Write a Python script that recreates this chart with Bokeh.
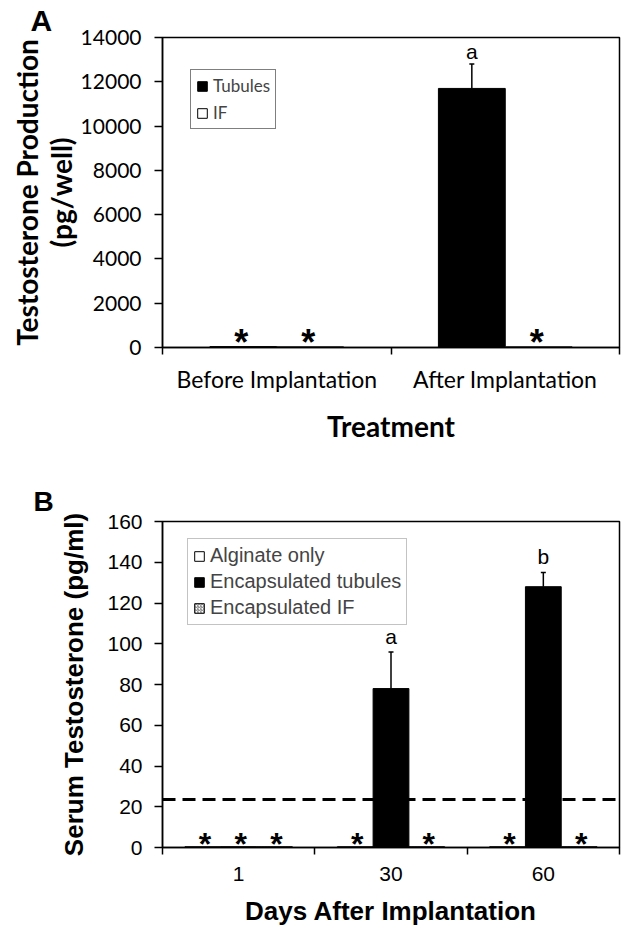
from bokeh.plotting import figure
from bokeh.models import (FixedTicker, Range1d, Whisker, TeeHead, Span,
                          ColumnDataSource, Legend, LegendItem, NumeralTickFormatter)
from bokeh.layouts import column
from bokeh.embed import file_html
from bokeh.resources import INLINE
from bokeh.core.properties import value

# ---------------- Panel A data ----------------
a_groups = ["Before Implantation", "After Implantation"]
a_tubules = [40, 11700]
a_tubules_err = [0, 1100]
a_if = [30, 30]
a_letters = ["", "a"]
a_tubules_star = [True, False]
a_if_star = [True, True]
a_yticks = [0, 2000, 4000, 6000, 8000, 10000, 12000, 14000]

# ---------------- Panel B data ----------------
b_days = ["1", "30", "60"]
b_alginate = [0.4, 0.4, 0.4]
b_tubules = [0.4, 78, 128]
b_tubules_err = [0, 18, 7]
b_if = [0.4, 0.4, 0.4]
b_letters = ["", "a", "b"]
b_alginate_star = [True, True, True]
b_tubules_star = [True, False, False]
b_if_star = [True, True, True]
b_yticks = [0, 20, 40, 60, 80, 100, 120, 140, 160]
b_limit = 23.5

FA = "Lato"
FB = "Liberation Sans"
STAR_FONT = "Liberation Sans"


def style_axes(p, font, tick_size, y_tick_out, y_standoff, x_standoff, label_font, label_size):
    p.grid.visible = False
    p.outline_line_color = "black"
    p.outline_line_width = 1.5
    for ax in (p.xaxis[0], p.yaxis[0]):
        ax.axis_line_color = "black"
        ax.axis_line_width = 1.5
        ax.major_label_text_font = font
        ax.major_label_text_font_size = tick_size
        ax.major_label_text_color = "black"
        ax.axis_label_text_font = label_font
        ax.axis_label_text_font_style = "bold"
        ax.axis_label_text_font_size = label_size
        ax.axis_label_text_color = "black"
    p.yaxis.major_tick_out = y_tick_out
    p.yaxis.major_tick_in = 0
    p.yaxis.major_tick_line_width = 1.5
    p.yaxis.major_tick_line_color = "black"
    p.yaxis.minor_tick_line_color = None
    p.yaxis.major_label_standoff = y_standoff
    p.xaxis.major_tick_line_color = None
    p.xaxis.major_tick_out = 0
    p.xaxis.major_tick_in = 0
    p.xaxis.minor_tick_out = 7
    p.xaxis.minor_tick_in = 0
    p.xaxis.minor_tick_line_color = "black"
    p.xaxis.minor_tick_line_width = 1.5
    p.xaxis.major_label_standoff = x_standoff


def panel_letter(p, letter, size, offset, standoff):
    p.title.text = letter
    p.title.align = "left"
    p.title.offset = offset
    p.title.standoff = standoff
    p.title.text_font = FB
    p.title.text_font_size = size
    p.title.text_font_style = "bold"
    p.title.text_color = "black"
    p.title.text_line_height = 1.0
    p.title.vertical_align = "bottom"


# =============== Panel A ===============
nA = len(a_groups)
a_centers = [2 * i + 1 for i in range(nA)]
a_w = 0.585
a_tub_x = [c - a_w / 2 for c in a_centers]
a_if_x = [c + a_w / 2 for c in a_centers]

pA = figure(width=622, height=462, x_range=Range1d(0, 2 * nA), y_range=Range1d(0, 14000),
            output_backend="svg", toolbar_location=None,
            min_border_left=162, min_border_right=3, min_border_top=37, min_border_bottom=115)
style_axes(pA, FA, "21px", 8, 13, 10, FA, "28px")
pA.xaxis.major_label_text_font_size = "23px"
pA.yaxis.ticker = FixedTicker(ticks=a_yticks)
pA.yaxis.formatter = NumeralTickFormatter(format="0")
pA.xaxis.ticker = FixedTicker(ticks=a_centers, minor_ticks=list(range(0, 2 * nA + 1, 2)))
pA.xaxis.major_label_overrides = {c: g for c, g in zip(a_centers, a_groups)}
pA.yaxis.axis_label = "Testosterone Production\n(pg/well)"
pA.yaxis.axis_label_standoff = 0
pA.yaxis.axis_label_text_line_height = 1.0
pA.xaxis.axis_label = "Treatment"
pA.xaxis.axis_label_standoff = 13
pA.xaxis.axis_label_text_font_size = "28px"
panel_letter(pA, "A", "30px", -132, 1)

rA_tub = pA.vbar(x=a_tub_x, top=a_tubules, width=a_w, fill_color="black", line_color="black", line_width=1)
rA_if = pA.vbar(x=a_if_x, top=a_if, width=a_w, fill_color="white", line_color="black", line_width=1)

errA = ColumnDataSource(dict(
    base=[x for x, e in zip(a_tub_x, a_tubules_err) if e > 0],
    lower=[t for t, e in zip(a_tubules, a_tubules_err) if e > 0],
    upper=[t + e for t, e in zip(a_tubules, a_tubules_err) if e > 0],
    letter=[l for l, e in zip(a_letters, a_tubules_err) if e > 0],
))
pA.add_layout(Whisker(source=errA, base="base", lower="lower", upper="upper", line_color="black",
                      line_width=1.5, lower_head=None,
                      upper_head=TeeHead(size=5, line_color="black", line_width=1.5)))
pA.text(x="base", y="upper", text="letter", source=errA, text_font=value(FB), text_font_size="21px",
        text_align="center", text_baseline="bottom", y_offset=-1, text_color="black")

a_star_x = [x for x, s in zip(a_tub_x, a_tubules_star) if s] + [x for x, s in zip(a_if_x, a_if_star) if s]
pA.text(x=a_star_x, y=[0] * len(a_star_x), text=["*"] * len(a_star_x), text_font=value(STAR_FONT),
        text_font_style="bold", text_font_size="36px", text_align="center", text_baseline="middle",
        y_offset=-5, x_offset=-2, text_color="black")

legA = Legend(items=[LegendItem(label="Tubules", renderers=[rA_tub]),
                     LegendItem(label="IF", renderers=[rA_if])],
              location=(28, 218), label_text_font=FA, label_text_font_size="17px",
              glyph_width=12, glyph_height=12, label_standoff=5, padding=5, spacing=6,
              label_height=18, border_line_color="black", border_line_width=1.2,
              background_fill_color="white", margin=0)
pA.add_layout(legA)

# =============== Panel B ===============
nB = len(b_days)
b_centers = [2 * i + 1 for i in range(nB)]
b_w = 0.47
b_alg_x = [c - b_w for c in b_centers]
b_tub_x = list(b_centers)
b_if_x = [c + b_w for c in b_centers]

pB = figure(width=622, height=468, x_range=Range1d(0, 2 * nB), y_range=Range1d(0, 160),
            output_backend="svg", toolbar_location=None,
            min_border_left=162, min_border_right=2, min_border_top=59, min_border_bottom=83)
style_axes(pB, FB, "21px", 8, 12, 12, FB, "26px")
pB.yaxis.ticker = FixedTicker(ticks=b_yticks)
pB.xaxis.ticker = FixedTicker(ticks=b_centers, minor_ticks=list(range(0, 2 * nB + 1, 2)))
pB.xaxis.major_label_overrides = {c: d for c, d in zip(b_centers, b_days)}
pB.yaxis.axis_label = "Serum Testosterone (pg/ml)"
pB.yaxis.axis_label_standoff = 15
pB.xaxis.axis_label = "Days After Implantation"
pB.xaxis.axis_label_standoff = 12
panel_letter(pB, "B", "28px", -129, 10)

pB.add_layout(Span(location=b_limit, dimension="width", line_color="black", line_width=3,
                   line_dash="13 7"))

rB_alg = pB.vbar(x=b_alg_x, top=b_alginate, width=b_w, fill_color="white", line_color="black", line_width=1)
rB_tub = pB.vbar(x=b_tub_x, top=b_tubules, width=b_w, fill_color="black", line_color="black", line_width=1)
rB_if = pB.vbar(x=b_if_x, top=b_if, width=b_w, fill_color="white", line_color="black", line_width=1,
                hatch_pattern="/", hatch_color="#777777", hatch_scale=3, hatch_weight=1)

errB = ColumnDataSource(dict(
    base=[x for x, e in zip(b_tub_x, b_tubules_err) if e > 0],
    lower=[t for t, e in zip(b_tubules, b_tubules_err) if e > 0],
    upper=[t + e for t, e in zip(b_tubules, b_tubules_err) if e > 0],
    letter=[l for l, e in zip(b_letters, b_tubules_err) if e > 0],
))
pB.add_layout(Whisker(source=errB, base="base", lower="lower", upper="upper", line_color="black",
                      line_width=1.5, lower_head=None,
                      upper_head=TeeHead(size=5, line_color="black", line_width=1.5)))
pB.text(x="base", y="upper", text="letter", source=errB, text_font=value(FB), text_font_size="21px",
        text_align="center", text_baseline="bottom", y_offset=-4, text_color="black")

b_star_x = ([x for x, s in zip(b_alg_x, b_alginate_star) if s] +
            [x for x, s in zip(b_tub_x, b_tubules_star) if s] +
            [x for x, s in zip(b_if_x, b_if_star) if s])
pB.text(x=b_star_x, y=[0] * len(b_star_x), text=["*"] * len(b_star_x), text_font=value(STAR_FONT),
        text_font_style="bold", text_font_size="32px", text_align="center", text_baseline="middle",
        y_offset=-4, x_offset=2, text_color="black")

legB = Legend(items=[LegendItem(label="Alginate only", renderers=[rB_alg]),
                     LegendItem(label="Encapsulated tubules", renderers=[rB_tub]),
                     LegendItem(label="Encapsulated IF", renderers=[rB_if])],
              location=(25, 222), label_text_font=FB, label_text_font_size="20px",
              glyph_width=12, glyph_height=12, label_standoff=5, padding=5, spacing=3,
              label_height=22, border_line_color="#888888", border_line_width=1.2,
              background_fill_color="white", margin=0)
pB.add_layout(legB)

layout = column(pA, pB)
open("out.html", "w").write(file_html(layout, INLINE))
